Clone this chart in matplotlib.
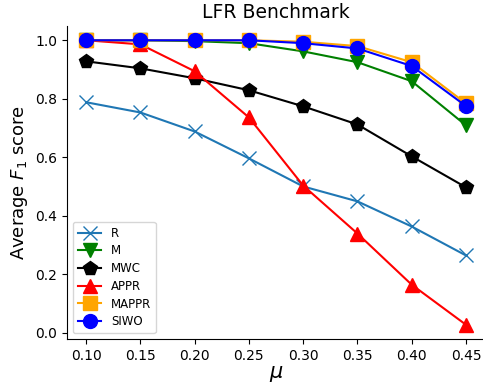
import matplotlib
matplotlib.use("Agg")
import matplotlib.pyplot as plt

mu = [0.10, 0.15, 0.20, 0.25, 0.30, 0.35, 0.40, 0.45]
r_vals = [0.788, 0.753, 0.688, 0.596, 0.500, 0.449, 0.363, 0.264]
m_vals = [1.000, 1.000, 0.997, 0.990, 0.962, 0.925, 0.860, 0.709]
mwc_vals = [0.928, 0.904, 0.870, 0.829, 0.774, 0.712, 0.603, 0.497]
appr_vals = [1.000, 0.986, 0.894, 0.736, 0.503, 0.339, 0.164, 0.027]
mappr_vals = [1.000, 1.000, 1.000, 1.000, 0.995, 0.980, 0.925, 0.784]
siwo_vals = [1.000, 1.000, 1.000, 1.000, 0.990, 0.972, 0.912, 0.775]

fig = plt.figure(figsize=(4.83, 3.83), dpi=100)
ax = fig.add_axes([0.139, 0.115, 0.865, 0.817])

ax.plot(mu, r_vals, marker='x', color='tab:blue', markersize=10, label='R')
ax.plot(mu, m_vals, marker='v', color='green', markersize=10, label='M')
ax.plot(mu, mwc_vals, marker='p', color='black', markersize=10, label='MWC')
ax.plot(mu, appr_vals, marker='^', color='red', markersize=10, label='APPR')
ax.plot(mu, mappr_vals, marker='s', color='orange', markersize=10, label='MAPPR')
ax.plot(mu, siwo_vals, marker='o', color='blue', markersize=10, label='SIWO')

ax.set_xticks(mu)
ax.set_xticklabels([f'{v:.2f}' for v in mu])
ax.set_yticks([0.0, 0.2, 0.4, 0.6, 0.8, 1.0])
ax.tick_params(labelsize=10)
ax.spines['top'].set_visible(False)
ax.spines['right'].set_visible(False)

ax.set_title('LFR Benchmark', fontsize=13.5)
ax.set_xlabel(r'$\mu$', fontsize=15, labelpad=1)
ax.set_ylabel(r'Average $F_1$ score', fontsize=13)
ax.legend(loc='lower left', fontsize=8.5, labelspacing=0.4)

fig.savefig('out.png', dpi=100)
